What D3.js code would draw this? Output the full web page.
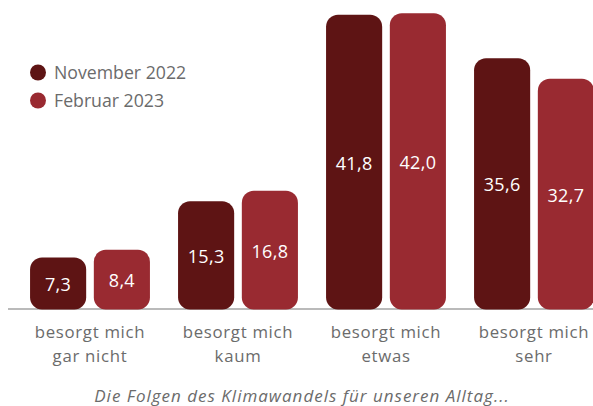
<!DOCTYPE html>
<html>
<head>
<meta charset="utf-8">
<script src="https://d3js.org/d3.v7.min.js"></script>
<style>
  body { margin: 0; background: #fff; }
  svg text { font-family: "Open Sans", "Noto Sans", sans-serif; }
</style>
</head>
<body>
<div id="chart"></div>
<script>
// data
const categories = [
  ["besorgt mich", "gar nicht"],
  ["besorgt mich", "kaum"],
  ["besorgt mich", "etwas"],
  ["besorgt mich", "sehr"]
];
const seriesNames = ["November 2022", "Februar 2023"];
const nov2022 = [7.3, 15.3, 41.8, 35.6];
const feb2023 = [8.4, 16.8, 42.0, 32.7];
const colors = ["#5e1414", "#992a31"];
const caption = "Die Folgen des Klimawandels für unseren Alltag...";

const width = 593, height = 406;
const svg = d3.select("#chart").append("svg")
  .attr("width", width)
  .attr("height", height);

const x0 = d3.scaleBand()
  .domain(d3.range(categories.length))
  .range([16, 608])
  .paddingInner(0.19)
  .paddingOuter(0.095);

const x1 = d3.scaleBand()
  .domain(seriesNames)
  .range([0, x0.bandwidth()])
  .paddingInner(0.12);

const y = d3.scaleLinear()
  .domain([0, 42])
  .range([309, 13.3]);

const fmt = v => d3.format(".1f")(v).replace(".", ",");

// baseline
svg.append("line")
  .attr("x1", 8).attr("x2", width)
  .attr("y1", y(0)).attr("y2", y(0))
  .attr("stroke", "#777").attr("stroke-width", 1.2);

const allSeries = [nov2022, feb2023];
const bars = [];
categories.forEach((c, i) => {
  allSeries.forEach((s, j) => bars.push({ i, name: seriesNames[j], j, v: s[i] }));
});

svg.selectAll("rect.bar")
  .data(bars)
  .join("rect")
  .attr("class", "bar")
  .attr("x", d => x0(d.i) + x1(d.name))
  .attr("y", d => y(d.v))
  .attr("width", x1.bandwidth())
  .attr("height", d => y(0) - y(d.v) + 0.5)
  .attr("rx", 12).attr("ry", 12)
  .attr("fill", d => colors[d.j]);

svg.selectAll("text.val")
  .data(bars)
  .join("text")
  .attr("class", "val")
  .attr("x", d => x0(d.i) + x1(d.name) + x1.bandwidth() / 2)
  .attr("y", d => (y(d.v) + y(0)) / 2 + 1.5)
  .attr("dy", "0.35em")
  .attr("text-anchor", "middle")
  .attr("fill", "#fff")
  .attr("font-size", 18)
  .attr("letter-spacing", 0.3)
  .text(d => fmt(d.v));

// category labels
const catG = svg.selectAll("g.cat")
  .data(categories)
  .join("g")
  .attr("class", "cat");
catG.each(function(lines, i) {
  const cx = x0(i) + x0.bandwidth() / 2;
  const t = d3.select(this).append("text")
    .attr("text-anchor", "middle")
    .attr("fill", "#6b6b6b")
    .attr("font-size", 16.8)
    .attr("letter-spacing", 0.7)
    .attr("y", 338);
  lines.forEach((l, k) => {
    t.append("tspan")
      .attr("x", cx)
      .attr("dy", k === 0 ? 0 : 24)
      .text(l);
  });
});

// legend
const legend = svg.selectAll("g.leg")
  .data(seriesNames)
  .join("g")
  .attr("class", "leg")
  .attr("transform", (d, i) => `translate(38,${72.5 + i * 28})`);
legend.append("circle").attr("r", 8).attr("fill", (d, i) => colors[i]);
legend.append("text")
  .attr("x", 16).attr("dy", "0.37em")
  .attr("fill", "#6b6b6b")
  .attr("font-size", 17.7)
  .text(d => d);

// caption
svg.append("text")
  .attr("x", 302).attr("y", 402)
  .attr("text-anchor", "middle")
  .attr("fill", "#6b6b6b")
  .attr("font-size", 17)
  .attr("letter-spacing", 1)
  .attr("font-style", "italic")
  .text(caption);
</script>
</body>
</html>
